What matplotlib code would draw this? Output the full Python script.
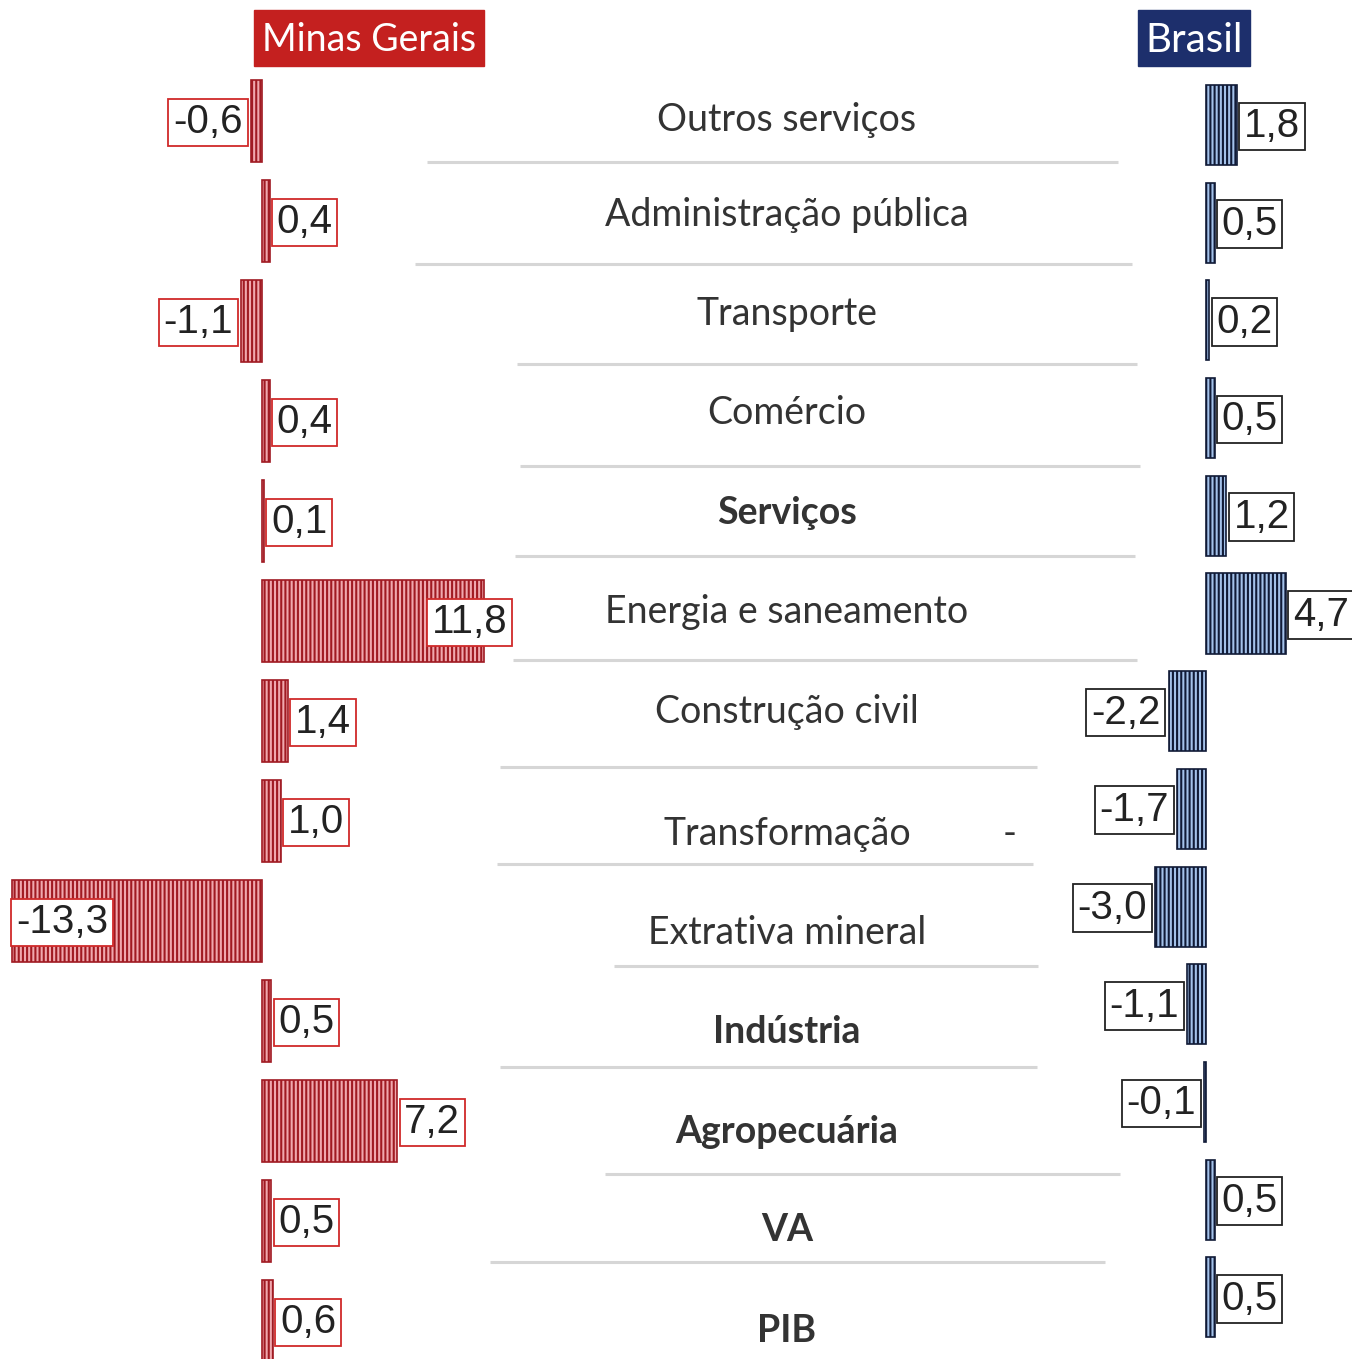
import matplotlib.pyplot as plt
from matplotlib.patches import Rectangle

# dados
categorias = ["Outros serviços", "Administração pública", "Transporte", "Comércio",
              "Serviços", "Energia e saneamento", "Construção civil", "Transformação",
              "Extrativa mineral", "Indústria", "Agropecuária", "VA", "PIB"]
negrito = ["Serviços", "Indústria", "Agropecuária", "VA", "PIB"]
minas = [-0.6, 0.4, -1.1, 0.4, 0.1, 11.8, 1.4, 1.0, -13.3, 0.5, 7.2, 0.5, 0.6]
brasil = [1.8, 0.5, 0.2, 0.5, 1.2, 4.7, -2.2, -1.7, -3.0, -1.1, -0.1, 0.5, 0.5]

W, H = 1352, 1359
plt.rcParams['hatch.linewidth'] = 1.5

fig = plt.figure(figsize=(W / 100, H / 100), dpi=100)

def fmt(v):
    return f"{v:.1f}".replace(".", ",")

def barras(ax, vals, face, dark, box_ec, escala):
    n = len(vals)
    ax.barh(range(n), vals, height=0.82, color=face, edgecolor=dark,
            linewidth=1.2, hatch='||||')
    for i, v in enumerate(vals):
        if v >= 0:
            dx, ha = 7, 'left'
            if v * escala > 200:   # rótulo sobreposto ao fim da barra
                dx = -52
        else:
            dx, ha = -8, 'right'
            if -v * escala > 200:  # rótulo dentro da barra
                dx, ha = 4, 'left'
        ax.annotate(fmt(v), xy=(v, i), xytext=(dx * 0.72, -1), textcoords='offset points',
                    ha=ha, va='center', fontsize=29, family='Liberation Sans',
                    color='#222222',
                    bbox=dict(boxstyle='square,pad=0.12', fc='white', ec=box_ec, lw=1.3))
    ax.axis('off')

# Minas Gerais: zero em x=262 px, 18.8 px por unidade
s_mg = 18.8
ax1 = fig.add_axes([0, 0, 0.5, 1])
ax1.set_xlim(-262 / s_mg, (W / 2 - 262) / s_mg)
ax1.set_ylim((H - 121) / 100, -121 / 100)
barras(ax1, minas, '#f0a8ae', '#a01a22', '#d02a2a', s_mg)

# Brasil: zero em x=1206 px, 17 px por unidade
s_br = 17.0
ax2 = fig.add_axes([0.5, 0, 0.5, 1])
ax2.set_xlim(-(1206 - W / 2) / s_br, (W - 1206) / s_br)
ax2.set_ylim((H - 125) / 97.7, -125 / 97.7)
barras(ax2, brasil, '#a4c2ea', '#101a36', '#222222', s_br)

# rótulos centrais e linhas separadoras (em pixels)
axc = fig.add_axes([0, 0, 1, 1], facecolor='none')
axc.set_xlim(0, W)
axc.set_ylim(H, 0)
axc.axis('off')

rot_y = [120, 215, 314, 413, 513, 612, 712, 834, 933, 1032, 1132, 1230, 1331]
for cat, y in zip(categorias, rot_y):
    axc.text(787, y, cat, ha='center', va='center', fontsize=27, family='Lato',
             color='#333333', fontweight='bold' if cat in negrito else 'normal')
axc.text(1010, 834, "-", ha='center', va='center', fontsize=27, family='Lato', color='#333333')

linhas = [(162, 427, 1118), (264, 415, 1132), (364, 517, 1137), (466, 520, 1140),
          (556, 515, 1135), (660, 513, 1137), (767, 500, 1037), (864, 497, 1033),
          (966, 614, 1038), (1067, 500, 1037), (1174, 605, 1120), (1262, 490, 1105)]
for y, x0, x1 in linhas:
    axc.plot([x0, x1], [y, y], color='#d6d6d6', lw=2.2, solid_capstyle='butt')

# títulos
axc.add_patch(Rectangle((254, 10), 230, 56, color='#c4201f'))
axc.text(369, 40, "Minas Gerais", ha='center', va='center', fontsize=27,
         family='Lato', color='white')
axc.add_patch(Rectangle((1138, 10), 112, 56, color='#1d2f6c'))
axc.text(1194, 40, "Brasil", ha='center', va='center', fontsize=29,
         family='Lato', color='white')

fig.savefig('out.png', dpi=100, facecolor='white')
